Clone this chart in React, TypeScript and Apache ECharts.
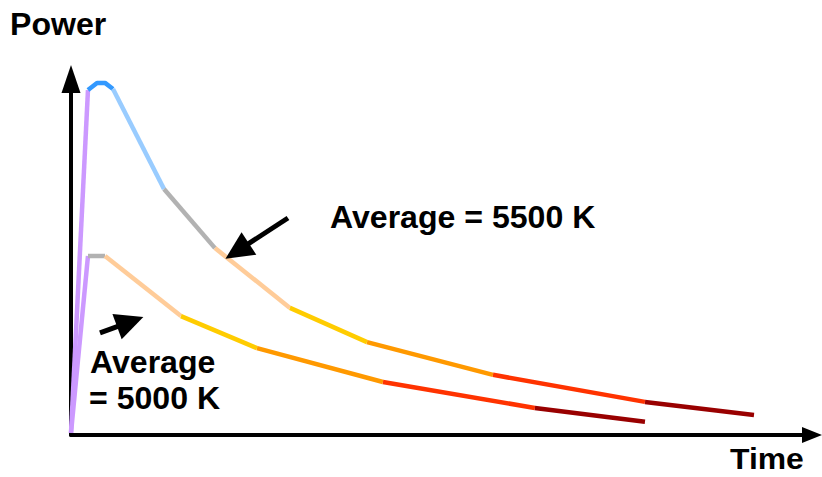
import React, { useEffect, useRef } from "react";
import * as echarts from "echarts";

// Upper curve (Average = 5500 K)
const upperTime = [0, 2.29, 3.51, 4.59, 5.67, 12.55, 19.43, 29.55, 39.95, 56.95, 77.46, 92.17];
const upperPower = [0.6, 96.9, 98.9, 98.9, 97.2, 69.1, 52.5, 35.7, 26.1, 16.9, 9.3, 5.6];
const upperColors = ["#cc99ff", "#3399ff", "#3399ff", "#3399ff", "#99ccff", "#b2b2b2", "#ffcc99", "#ffcc00", "#ff9900", "#ff3300", "#990000"];

// Lower curve (Average = 5000 K)
const lowerTime = [0, 2.29, 4.59, 14.84, 25.1, 42.1, 62.6, 77.46];
const lowerPower = [0.6, 50.3, 50.3, 33.4, 24.4, 14.9, 7.6, 3.7];
const lowerColors = ["#cc99ff", "#b2b2b2", "#ffcc99", "#ffcc00", "#ff9900", "#ff3300", "#990000"];

// Annotation arrows [time, power]
const arrowUpperFrom = [29.28, 60.96];
const arrowUpperTo = [22.43, 51.66];
const arrowLowerFrom = [3.91, 28.7];
const arrowLowerTo = [7.99, 31.8];

const yAxisTitle = "Power";
const xAxisTitle = "Time";
const upperLabel = "Average = 5500 K";
const lowerLabelLines = ["Average", "= 5000 K"];

const FONT = "'Liberation Sans', Arial, sans-serif";

function buildSegments(times: number[], powers: number[], colors: string[], prefix: string) {
  const out: any[] = [];
  let cur: any = null;
  for (let i = 0; i < colors.length; i++) {
    const c = colors[i];
    if (!cur || cur.color !== c) {
      cur = { color: c, data: [[times[i], powers[i]]] };
      out.push(cur);
    }
    cur.data.push([times[i + 1], powers[i + 1]]);
  }
  return out.map((g, k) => ({
    name: prefix + k,
    type: "line",
    data: g.data,
    showSymbol: false,
    symbol: "none",
    silent: true,
    z: 3,
    lineStyle: { color: g.color, width: 4.5, cap: "butt", join: "round" },
  }));
}

export default function App() {
  const ref = useRef<HTMLDivElement>(null);
  useEffect(() => {
    if (!ref.current) return;
    const chart = echarts.init(ref.current, undefined, { renderer: "svg" });
    const series: any[] = [
      ...buildSegments(upperTime, upperPower, upperColors, "upper"),
      ...buildSegments(lowerTime, lowerPower, lowerColors, "lower"),
    ];
    series.push({
      name: "arrows",
      type: "line",
      data: [],
      silent: true,
      markLine: {
        silent: true,
        symbol: ["none", "triangle"],
        symbolSize: [27, 28],
        label: { show: false },
        lineStyle: { color: "#000", width: 5, type: "solid" },
        emphasis: { disabled: true },
        data: [
          [{ coord: arrowUpperFrom }, { coord: arrowUpperTo }],
          [{ coord: arrowLowerFrom }, { coord: arrowLowerTo }],
        ],
      },
    });
    const textEl = (text: string, x: number, y: number, size = 31, sx = 1.035) => ({
      type: "text",
      x,
      y,
      scaleX: sx,
      silent: true,
      style: {
        text,
        fontSize: size,
        fontWeight: "bold",
        fontFamily: FONT,
        fill: "#000",
        align: "left",
        verticalAlign: "middle",
      },
    });
    chart.setOption({
      animation: false,
      backgroundColor: "#fff",
      grid: { left: 71, top: 79, right: 10, bottom: 42 },
      xAxis: {
        type: "value",
        min: 0,
        max: 100,
        axisLine: {
          show: true,
          symbol: ["none", "triangle"],
          symbolSize: [16, 20],
          lineStyle: { color: "#000", width: 4 },
        },
        axisTick: { show: false },
        axisLabel: { show: false },
        splitLine: { show: false },
      },
      yAxis: {
        type: "value",
        min: 0,
        max: 100,
        axisLine: {
          show: true,
          symbol: ["none", "triangle"],
          symbolSize: [19, 28],
          lineStyle: { color: "#000", width: 4 },
        },
        axisTick: { show: false },
        axisLabel: { show: false },
        splitLine: { show: false },
      },
      graphic: [
        textEl(yAxisTitle, 10, 24),
        textEl(xAxisTitle, 730, 459, 29, 1.1),
        textEl(upperLabel, 330, 217),
        textEl(lowerLabelLines[0], 90, 362),
        textEl(lowerLabelLines[1], 89, 398),
      ],
      series,
    });
    return () => chart.dispose();
  }, []);
  return (
    <div
      ref={ref}
      style={{ position: "fixed", left: 0, top: 0, width: 822, height: 477, background: "#fff" }}
    />
  );
}
